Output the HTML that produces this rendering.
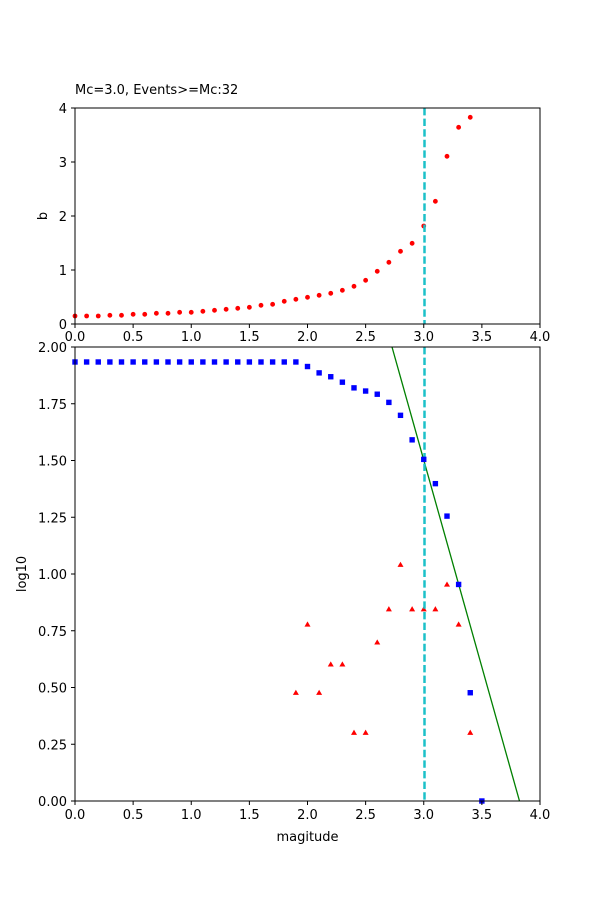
<!DOCTYPE html>
<html><head><meta charset="utf-8"><style>
html,body{margin:0;padding:0;background:#fff;}
svg{display:block;font-family:"DejaVu Sans","Liberation Sans",sans-serif;}
</style></head><body>
<svg id="s" width="600" height="900" xmlns="http://www.w3.org/2000/svg"></svg>
<script>
const s=document.getElementById('s');let h='';
const X=v=>75+v*116.25;
const Y1=v=>324-v*54;
const Y2=v=>801-v*227;
// top red dots (zoom-pixel y)
const tz=[648,648,648,646,646,643,643,640,640,637,637,634,631,628,625,622,616,613,604,598,592,586,580,571,559,541,514,487,454,430,378,304,169,82,52];
tz.forEach((z,i)=>{h+=`<circle cx="${X(i/10)}" cy="${100+z/3}" r="2.4" fill="#ff0000"/>`;});
// top dashed
h+=`<line x1="424.5" y1="108" x2="424.5" y2="324" stroke="#17becf" stroke-width="2.5" stroke-dasharray="7.4,3.2" style="stroke:#1cc0c8"/>`;
// top frame
h+=`<rect x="75" y="108" width="465" height="216" fill="none" stroke="#000" stroke-width="1"/>`;
for(let i=0;i<=8;i++){const x=X(i/2);h+=`<line x1="${x}" y1="324" x2="${x}" y2="328" stroke="#000"/><text x="${x}" y="341" font-size="13" text-anchor="middle">${(i/2).toFixed(1)}</text>`;}
for(let i=0;i<=4;i++){const y=Y1(i);h+=`<line x1="71" y1="${y}" x2="75" y2="${y}" stroke="#000"/><text x="67" y="${y+5}" font-size="13" text-anchor="end">${i}</text>`;}
h+=`<text x="75" y="94" font-size="13">Mc=3.0, Events&gt;=Mc:32</text>`;
h+=`<text transform="translate(47,216) rotate(-90)" font-size="13" text-anchor="middle">b</text>`;
// bottom
h+=`<defs><clipPath id="c"><rect x="75" y="347" width="465" height="454"/></clipPath></defs>`;
h+=`<line x1="392" y1="347" x2="519.5" y2="801" stroke="#008000" stroke-width="1.3" clip-path="url(#c)"/>`;
const tri=[[1.9,.477],[2.0,.778],[2.1,.477],[2.2,.602],[2.3,.602],[2.4,.301],[2.5,.301],[2.6,.699],[2.7,.845],[2.8,1.041],[2.9,.845],[3.0,.845],[3.1,.845],[3.2,.954],[3.3,.778],[3.4,.301]];
tri.forEach(([m,v])=>{const x=X(m),y=Y2(v);h+=`<polygon points="${x},${y-3} ${x-3},${y+2.2} ${x+3},${y+2.2}" fill="#ff0000"/>`;});
h+=`<line x1="424.5" y1="347" x2="424.5" y2="801" stroke="#1cc0c8" stroke-width="2.5" stroke-dasharray="7.4,3.2"/>`;
const bl=[];for(let i=0;i<20;i++)bl.push([i/10,1.934]);
[[2.0,1.914],[2.1,1.886],[2.2,1.869],[2.3,1.845],[2.4,1.82],[2.5,1.806],[2.6,1.792],[2.7,1.756],[2.8,1.699],[2.9,1.591],[3.0,1.505],[3.1,1.398],[3.2,1.255],[3.3,.954],[3.4,.477],[3.5,0]].forEach(p=>bl.push(p));
bl.forEach(([m,v])=>{h+=`<rect x="${X(m)-2.7}" y="${Y2(v)-2.7}" width="5.4" height="5.4" fill="#0000ff"/>`;});
h+=`<rect x="75" y="347" width="465" height="454" fill="none" stroke="#000" stroke-width="1"/>`;
for(let i=0;i<=8;i++){const x=X(i/2);h+=`<line x1="${x}" y1="801" x2="${x}" y2="805" stroke="#000"/><text x="${x}" y="819" font-size="13" text-anchor="middle">${(i/2).toFixed(1)}</text>`;}
for(let i=0;i<=8;i++){const v=i/4,y=Y2(v);h+=`<line x1="71" y1="${y}" x2="75" y2="${y}" stroke="#000"/><text x="67" y="${y+5}" font-size="13" text-anchor="end">${v.toFixed(2)}</text>`;}
h+=`<text x="307.5" y="841" font-size="13" text-anchor="middle">magitude</text>`;
h+=`<text transform="translate(26,574) rotate(-90)" font-size="13" text-anchor="middle">log10</text>`;
s.innerHTML=h;
</script>
</body></html>
